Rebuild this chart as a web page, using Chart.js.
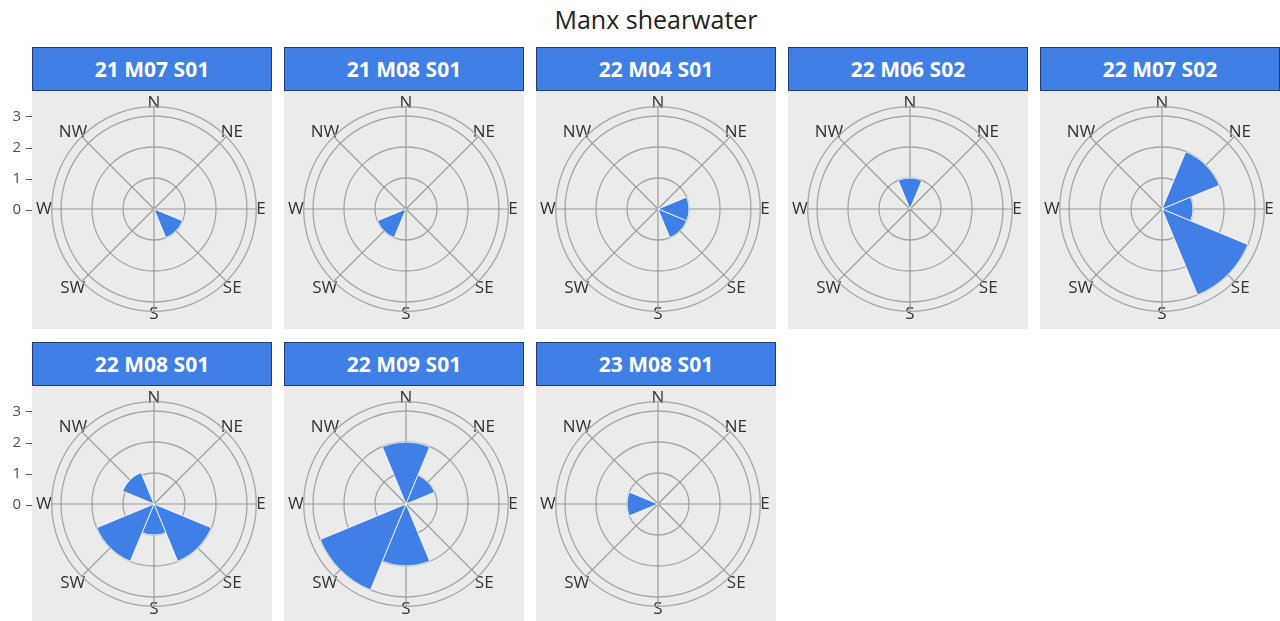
<!DOCTYPE html>
<html>
<head>
<meta charset="utf-8">
<script src="https://cdn.jsdelivr.net/npm/chart.js@4.4.1/dist/chart.umd.min.js"></script>
<style>
  html, body { margin: 0; padding: 0; background: #ffffff; }
  body { width: 1280px; height: 621px; overflow: hidden; position: relative; font-family: "Open Sans", "DejaVu Sans", sans-serif; }
  #title { position: absolute; left: 32px; top: 3px; width: 1248px; text-align: center; font-size: 25px; line-height: 32px; color: #222; }
  .strip { position: absolute; box-sizing: border-box; height: 44px; background: #3f7fe6; border: 1px solid #1f3c73; color: #ffffff; font-weight: 700; font-size: 21px; line-height: 42px; text-align: center; }
  .panel { position: absolute; background: #ebebeb; }
  .panel canvas { position: absolute; left: 0; top: 0; }
  .yaxis { position: absolute; left: 0; }
</style>
</head>
<body>
<div id="title"></div>
<script>
// ---------------- data ----------------
const chartTitle = 'Manx shearwater';
const directions = ['N', 'NE', 'E', 'SE', 'S', 'SW', 'W', 'NW'];
const radialTicks = [0, 1, 2, 3];
const radialMax = 3.3;
const panelNames = ['21 M07 S01', '21 M08 S01', '22 M04 S01', '22 M06 S02', '22 M07 S02', '22 M08 S01', '22 M09 S01', '23 M08 S01'];
const counts21M07S01 = [0, 0, 0, 1, 0, 0, 0, 0];
const counts21M08S01 = [0, 0, 0, 0, 0, 1, 0, 0];
const counts22M04S01 = [0, 0, 1, 1, 0, 0, 0, 0];
const counts22M06S02 = [1, 0, 0, 0, 0, 0, 0, 0];
const counts22M07S02 = [0, 2, 1, 3, 0, 0, 0, 0];
const counts22M08S01 = [0, 0, 0, 2, 1, 2, 0, 1.1];
const counts22M09S01 = [2, 1, 0, 0, 2, 3, 0, 0];
const counts23M08S01 = [0, 0, 0, 0, 0, 0, 1, 0];
const panelCounts = [counts21M07S01, counts21M08S01, counts22M04S01, counts22M06S02, counts22M07S02, counts22M08S01, counts22M09S01, counts23M08S01];

// ---------------- style / layout ----------------
const BAR_COLOR = '#3f7fe6';
const PANEL_W = 240, PANEL_H = 238;
const COL_LEFT = [32, 284, 536, 788, 1040];
const ROW_STRIP_TOP = [47, 342];
const ROW_PANEL_TOP = [91, 386];
const PAD = { left: 1, right: 3, top: 1, bottom: 1 };
const labelFont = { family: 'Open Sans', size: 17 };
const LABEL_PAD = [-7, -8, 0, -5, -7, -5, 0, -8];
const labelPadding = ctx => LABEL_PAD[ctx.index];

document.getElementById('title').textContent = chartTitle;

function tickSetter(scale) {
  scale.ticks = radialTicks.concat([radialMax]).map(v => ({ value: v }));
}

function makeCanvas(parent, w, h) {
  const c = document.createElement('canvas');
  c.width = w; c.height = h;
  c.style.width = w + 'px'; c.style.height = h + 'px';
  parent.appendChild(c);
  return c;
}

panelNames.forEach((name, i) => {
  const row = Math.floor(i / 5), col = i % 5;
  const strip = document.createElement('div');
  strip.className = 'strip';
  strip.style.left = COL_LEFT[col] + 'px';
  strip.style.top = ROW_STRIP_TOP[row] + 'px';
  strip.style.width = PANEL_W + 'px';
  strip.textContent = name;
  document.body.appendChild(strip);

  const panel = document.createElement('div');
  panel.className = 'panel';
  panel.style.left = COL_LEFT[col] + 'px';
  panel.style.top = ROW_PANEL_TOP[row] + 'px';
  panel.style.width = PANEL_W + 'px';
  panel.style.height = PANEL_H + 'px';
  document.body.appendChild(panel);

  // background: grid circles, spokes, compass labels
  const bg = makeCanvas(panel, PANEL_W, PANEL_H);
  new Chart(bg, {
    type: 'radar',
    data: { labels: directions, datasets: [] },
    options: {
      animation: false, responsive: false,
      layout: { padding: PAD },
      plugins: { legend: { display: false }, tooltip: { enabled: false } },
      scales: {
        r: {
          min: 0, max: radialMax, startAngle: 0,
          afterBuildTicks: tickSetter,
          ticks: { display: false },
          grid: { circular: true, color: '#a6a6a6', lineWidth: 1.3 },
          angleLines: { display: true, color: '#9a9a9a', lineWidth: 1.2 },
          pointLabels: { display: true, padding: labelPadding, font: labelFont, color: '#333333' }
        }
      }
    }
  });

  // foreground: wind-rose wedges
  const fg = makeCanvas(panel, PANEL_W, PANEL_H);
  new Chart(fg, {
    type: 'polarArea',
    data: {
      labels: directions,
      datasets: [{
        data: panelCounts[i],
        backgroundColor: BAR_COLOR,
        borderColor: '#ffffff',
        borderWidth: ctx => (ctx.raw > 0 ? 0.8 : 0)
      }]
    },
    options: {
      animation: false, responsive: false,
      layout: { padding: PAD },
      plugins: { legend: { display: false }, tooltip: { enabled: false } },
      scales: {
        r: {
          min: 0, max: radialMax, startAngle: -22.5,
          afterBuildTicks: tickSetter,
          ticks: { display: false },
          grid: { display: false },
          angleLines: { display: false },
          pointLabels: { display: true, centerPointLabels: true, padding: labelPadding, font: labelFont, color: 'rgba(0,0,0,0)' }
        }
      }
    }
  });
});

// left radial axes (one per row)
ROW_PANEL_TOP.forEach(top => {
  const holder = document.createElement('div');
  holder.className = 'yaxis';
  holder.style.top = top + 'px';
  holder.style.width = '34px';
  holder.style.height = PANEL_H + 'px';
  document.body.appendChild(holder);
  const c = makeCanvas(holder, 34, PANEL_H);
  const centerY = 119;
  const unitPx = 31;
  new Chart(c, {
    type: 'line',
    data: { labels: [], datasets: [] },
    options: {
      animation: false, responsive: false,
      layout: { padding: { left: 0, right: 0, top: centerY - radialMax * unitPx, bottom: PANEL_H - centerY } },
      plugins: { legend: { display: false }, tooltip: { enabled: false } },
      scales: {
        x: { display: false },
        y: {
          position: 'left', min: 0, max: radialMax,
          afterBuildTicks: s => { s.ticks = radialTicks.map(v => ({ value: v })); },
          afterFit: s => { s.width = 32; },
          border: { display: false },
          grid: { drawOnChartArea: false, drawTicks: true, tickLength: 6, color: '#555555' },
          ticks: { color: '#4d4d4d', padding: 5, font: { family: 'Open Sans', size: 15 } }
        }
      }
    }
  });
});
</script>
</body>
</html>
